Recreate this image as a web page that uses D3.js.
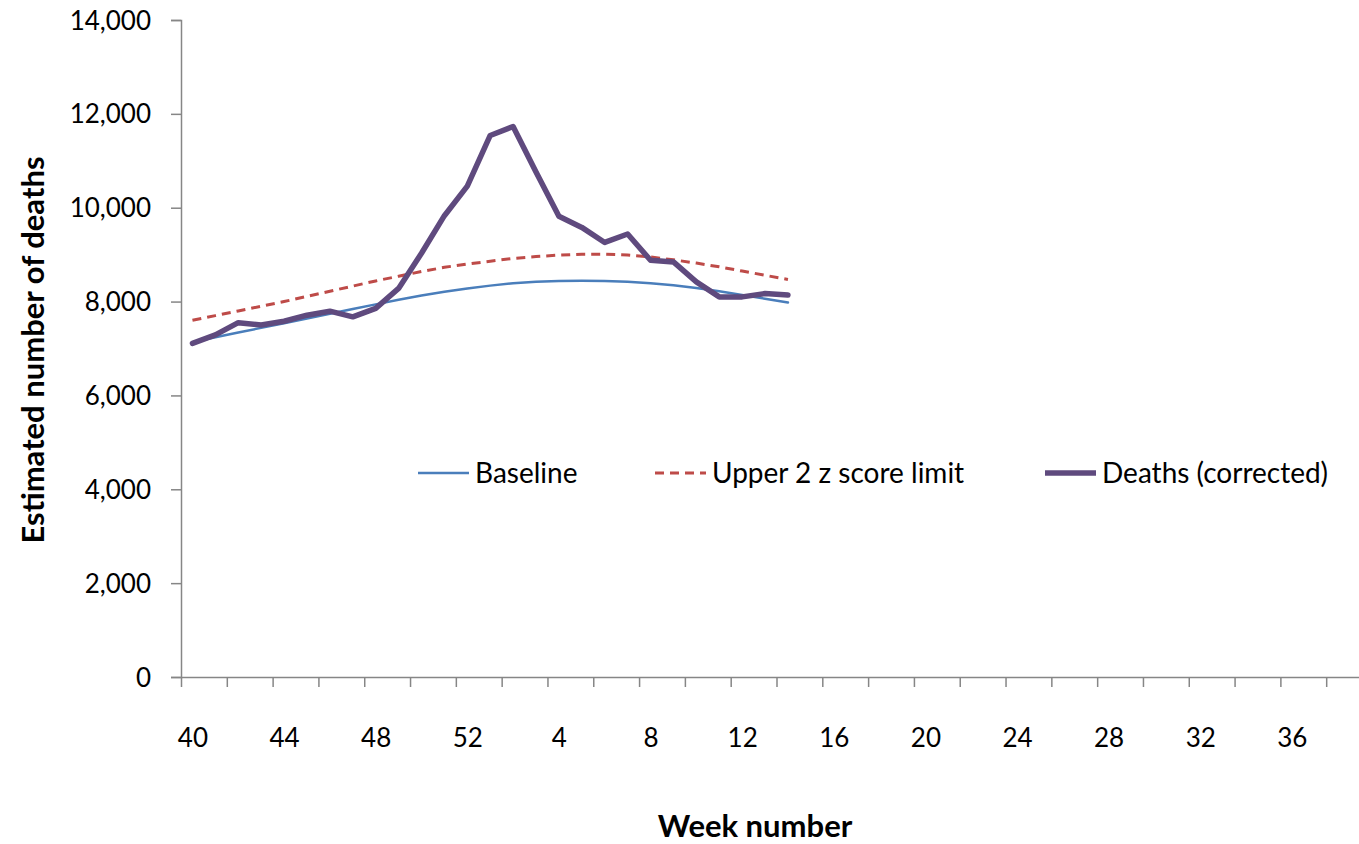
<!DOCTYPE html>
<html>
<head>
<meta charset="utf-8">
<title>Estimated number of deaths by week</title>
<script src="https://d3js.org/d3.v7.min.js"></script>
<style>
  body { margin: 0; background: #fff; }
  svg { display: block; }
  text { font-family: Lato, "Open Sans", sans-serif; fill: #000; }
</style>
</head>
<body>
<script>
// week labels: 40..52 then 1..39
var weeks = d3.range(40, 53).concat(d3.range(1, 40));

// series, from week 40 to week 14
var baseline = [7130, 7240, 7340, 7440, 7540, 7640, 7740, 7840, 7940, 8040, 8130, 8210, 8280,
  8340, 8390, 8420, 8440, 8445, 8440, 8420, 8390, 8350, 8290, 8220, 8140, 8060, 7980];
var upperLimit = [7600, 7700, 7800, 7900, 8000, 8110, 8220, 8330, 8440, 8540, 8640, 8730, 8800,
  8860, 8920, 8960, 8990, 9010, 9010, 8990, 8950, 8890, 8820, 8740, 8650, 8560, 8470];
var deaths = [7110, 7290, 7550, 7500, 7580, 7710, 7795, 7675, 7855, 8280, 9030, 9830, 10460,
  11540, 11730, 10760, 9820, 9580, 9260, 9440, 8880, 8845, 8420, 8100, 8100, 8170, 8140];

var yTicks = [0, 2000, 4000, 6000, 8000, 10000, 12000, 14000];
var legendNames = ["Baseline", "Upper 2 z score limit", "Deaths (corrected)"];

var W = 1359, H = 844;
var plotLeft = 181, plotRight = 1372, plotTop = 20, plotBottom = 677;

var svg = d3.select("body").append("svg")
  .attr("width", W)
  .attr("height", H);

// x: category index, each week one slot
var x = d3.scaleLinear()
  .domain([-0.5, weeks.length - 0.5])
  .range([plotLeft, plotRight]);

var y = d3.scaleLinear()
  .domain([0, 14000])
  .range([plotBottom, plotTop]);

var axisColor = "#868686";

// y axis
var yAxis = svg.append("g")
  .attr("transform", "translate(" + plotLeft + ",0)")
  .call(d3.axisLeft(y).tickValues(yTicks).tickSize(10).tickPadding(20)
    .tickFormat(d3.format(",")));
yAxis.select(".domain").attr("stroke", axisColor).attr("stroke-width", 1.5);
yAxis.selectAll(".tick line").attr("stroke", axisColor).attr("stroke-width", 1.5);
yAxis.selectAll(".tick text").style("font-size", "26px").attr("dy", "0.35em");

// x axis tick marks, every 2 weeks on slot boundaries
var marks = d3.range(-0.5, weeks.length, 2);
var xMarks = svg.append("g")
  .attr("transform", "translate(0," + plotBottom + ")")
  .call(d3.axisBottom(x).tickValues(marks).tickSize(10).tickFormat(""));
xMarks.select(".domain").attr("stroke", axisColor).attr("stroke-width", 1.5)
  .attr("d", "M" + plotLeft + ",0.5H" + plotRight);
xMarks.selectAll(".tick line").attr("stroke", axisColor).attr("stroke-width", 1.5);

// x labels every 4 weeks, centred on the slot
var labelIdx = d3.range(0, weeks.length, 4);
var xLabels = svg.append("g")
  .attr("transform", "translate(0," + plotBottom + ")")
  .call(d3.axisBottom(x).tickValues(labelIdx).tickSize(0).tickPadding(61)
    .tickFormat(function(i) { return weeks[i]; }));
xLabels.select(".domain").remove();
xLabels.selectAll(".tick text").style("font-size", "26px").attr("dy", "0.35em");

// lines
var line = d3.line()
  .x(function(d, i) { return x(i); })
  .y(function(d) { return y(d); });

var styles = [
  { data: baseline, color: "#4A7EBB", width: 2.5, dash: null },
  { data: upperLimit, color: "#BE4B48", width: 3, dash: "9,6" },
  { data: deaths, color: "#5F4A7E", width: 5.5, dash: null }
];

styles.forEach(function(s) {
  svg.append("path")
    .datum(s.data)
    .attr("fill", "none")
    .attr("stroke", s.color)
    .attr("stroke-width", s.width)
    .attr("stroke-dasharray", s.dash)
    .attr("stroke-linejoin", "round")
    .attr("stroke-linecap", s.dash ? "butt" : "round")
    .attr("d", line);
});

// legend
var legendX = [418, 655, 1045];
var legend = svg.selectAll(".legend")
  .data(styles)
  .enter().append("g")
  .attr("class", "legend")
  .attr("transform", function(d, i) { return "translate(" + legendX[i] + ",473)"; });

legend.append("line")
  .attr("x1", 0).attr("x2", 51)
  .attr("stroke", function(d) { return d.color; })
  .attr("stroke-width", function(d) { return d.width; })
  .attr("stroke-dasharray", function(d) { return d.dash; });

legend.append("text")
  .attr("x", 57)
  .attr("dy", "0.35em")
  .style("font-size", "28px")
  .text(function(d, i) { return legendNames[i]; });

// axis titles
svg.append("text")
  .attr("transform", "translate(33,350) rotate(-90)")
  .attr("text-anchor", "middle")
  .attr("dy", "0.35em")
  .style("font-size", "31px")
  .style("font-weight", "bold")
  .text("Estimated number of deaths");

svg.append("text")
  .attr("x", 755)
  .attr("y", 826)
  .attr("text-anchor", "middle")
  .attr("dy", "0.35em")
  .style("font-size", "31px")
  .style("font-weight", "bold")
  .text("Week number");
</script>
</body>
</html>
